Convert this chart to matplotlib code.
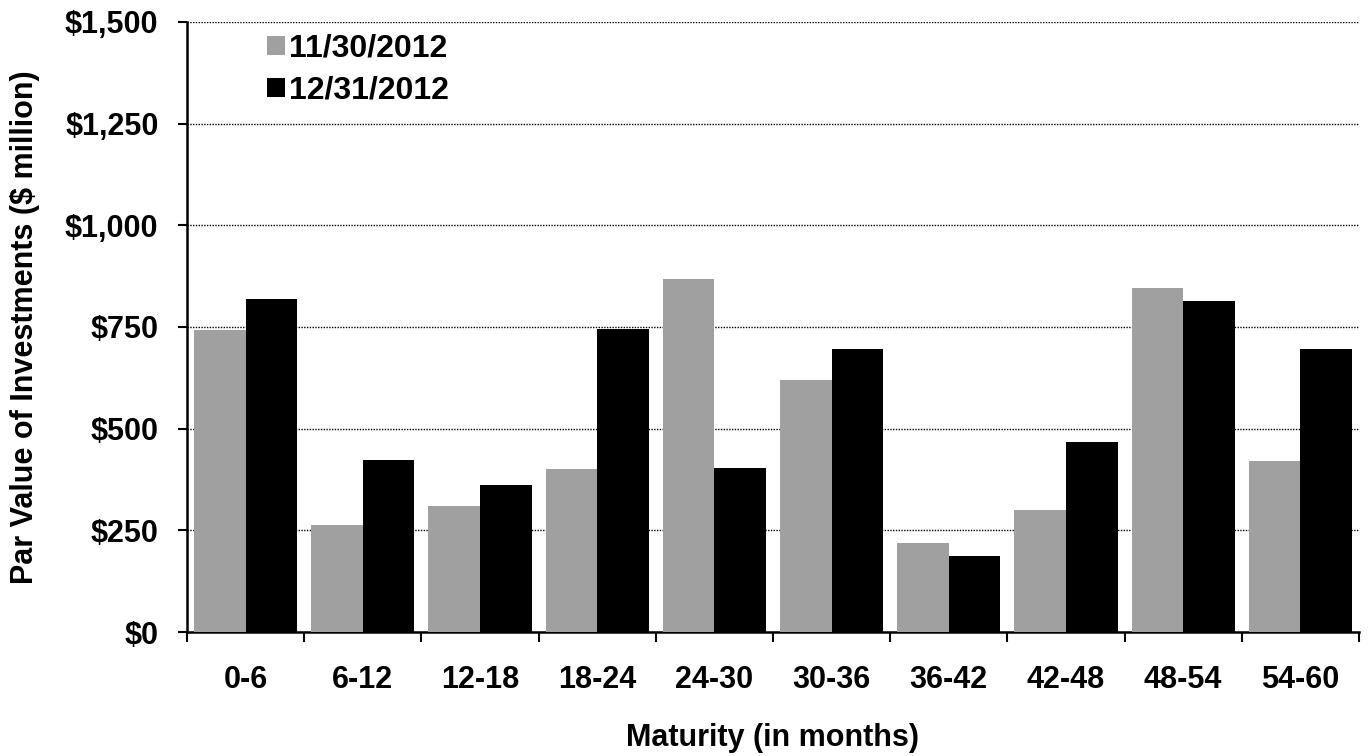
import numpy as np
import matplotlib
matplotlib.use('Agg')
import matplotlib.pyplot as plt

# Dades llegides del gràfic
categories = ['0-6', '6-12', '12-18', '18-24', '24-30', '30-36', '36-42', '42-48', '48-54', '54-60']
nov_2012 = [742, 262, 311, 402, 869, 619, 218, 299, 847, 420]
dec_2012 = [818, 423, 361, 745, 403, 695, 188, 467, 813, 697]
yticks = [0, 250, 500, 750, 1000, 1250, 1500]
ytick_labels = ['$0', '$250', '$500', '$750', '$1,000', '$1,250', '$1,500']

plt.rcParams['font.family'] = ['Liberation Sans', 'DejaVu Sans']
plt.rcParams['font.weight'] = 'bold'
fs = 22

fig = plt.figure(figsize=(13.68, 7.56), dpi=100)
ax = fig.add_axes([0.1367, 0.164, 0.8567, 0.807])

x = np.arange(len(categories))
w = 0.44
ax.bar(x - w/2, nov_2012, w, color='#a0a0a0', label='11/30/2012', zorder=3)
ax.bar(x + w/2, dec_2012, w, color='black', label='12/31/2012', zorder=3)

ax.set_xlim(-0.5, len(categories) - 0.5)
ax.set_ylim(0, 1500)

# Graella de punts
ax.set_yticks(yticks)
ax.set_yticklabels(ytick_labels, fontsize=fs, fontweight='bold')
ax.yaxis.grid(True, linestyle=(0, (1, 1)), color='black', linewidth=1.0, zorder=0)

ax.set_xticks(x)
ax.set_xticklabels(categories, fontsize=fs, fontweight='bold')
ax.set_xticks(np.arange(-0.5, len(categories)), minor=True)
ax.tick_params(axis='x', which='major', length=0, pad=24)
ax.tick_params(axis='x', which='minor', length=7, width=1.5, direction='out')
ax.tick_params(axis='y', length=6.5, width=1.5, pad=14)

for s in ['top', 'right']:
    ax.spines[s].set_visible(False)
for s in ['left', 'bottom']:
    ax.spines[s].set_linewidth(1.8)

ax.set_ylabel('Par Value of Investments ($ million)', fontsize=fs, fontweight='bold', labelpad=18)
ax.set_xlabel('Maturity (in months)', fontsize=fs, fontweight='bold', labelpad=20)

leg = ax.legend(loc='upper left', bbox_to_anchor=(0.052, 1.012), frameon=False,
                fontsize=23, handlelength=0.55, handleheight=0.55,
                handletextpad=0.15, labelspacing=0.38, borderaxespad=0.2)
for t in leg.get_texts():
    t.set_fontweight('bold')

fig.savefig('out.png', dpi=100)
